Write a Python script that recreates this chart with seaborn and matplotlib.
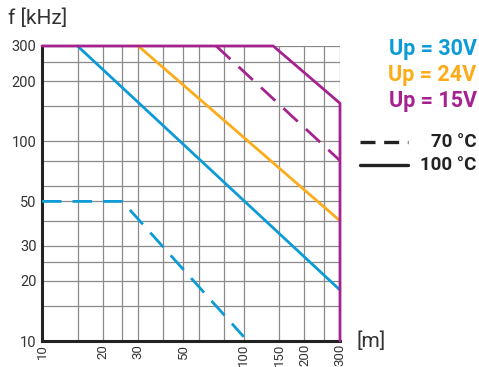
import matplotlib
matplotlib.use("Agg")
import matplotlib.pyplot as plt
from matplotlib.lines import Line2D
import seaborn as sns
import pandas as pd

# cable length [m] vs max frequency [kHz]
blue_70_len = [10, 25, 100]
blue_70_freq = [50, 50, 10.5]
blue_100_len = [15, 300]
blue_100_freq = [300, 18]
orange_100_len = [30, 300]
orange_100_freq = [300, 40]
purple_70_len = [73, 300]
purple_70_freq = [300, 80]
purple_100_len = [10, 140, 300, 300]
purple_100_freq = [300, 300, 155, 10]

x_grid = [10, 15, 20, 25, 30, 40, 50, 60, 80, 100, 150, 200, 250, 300]
x_labels = ["10", "", "20", "", "30", "", "50", "", "", "100", "150", "200", "", "300"]
y_grid = [10, 15, 20, 25, 30, 40, 50, 60, 80, 100, 150, 200, 250, 300]
y_labels = ["10", "", "20", "", "30", "", "50", "", "", "100", "", "200", "", "300"]

voltages = ["Up = 30V", "Up = 24V", "Up = 15V"]
temps = ["70 °C", "100 °C"]
colors = {"Up = 30V": "#0c9bd6", "Up = 24V": "#fbac18", "Up = 15V": "#a5228f"}

series = [
    ("Up = 30V", "70 °C", blue_70_len, blue_70_freq),
    ("Up = 30V", "100 °C", blue_100_len, blue_100_freq),
    ("Up = 24V", "100 °C", orange_100_len, orange_100_freq),
    ("Up = 15V", "70 °C", purple_70_len, purple_70_freq),
    ("Up = 15V", "100 °C", purple_100_len, purple_100_freq),
]
rows = []
for v, t, xs, ys in series:
    for x, y in zip(xs, ys):
        rows.append({"length": x, "freq": y, "voltage": v, "temp": t})
df = pd.DataFrame(rows)

sns.set_theme(style="white")
plt.rcParams["font.family"] = ["Roboto", "DejaVu Sans"]

fig = plt.figure(figsize=(4.79, 3.67), dpi=100)
ax = fig.add_axes([0.0877, 0.0708, 0.6221, 0.8039])

sns.lineplot(data=df, x="length", y="freq", hue="voltage", style="temp",
             hue_order=voltages, style_order=temps, palette=colors,
             dashes={"70 °C": (7, 4), "100 °C": ""},
             estimator=None, sort=False,
             linewidth=2.0, legend=False, ax=ax)
for ln in ax.lines:
    ln.set_clip_on(False)
    ln.set_zorder(5)

ax.set_xscale("log")
ax.set_yscale("log")
ax.set_xlim(10, 300)
ax.set_ylim(10, 300)
ax.set_xticks(x_grid)
ax.set_xticklabels(x_labels, rotation=90, fontsize=9.5, color="#333333")
ax.set_yticks(y_grid)
ax.set_yticklabels(y_labels, fontsize=10.5, color="#333333")
ax.minorticks_off()
ax.tick_params(axis="y", length=0, pad=4)
ax.tick_params(axis="x", length=0, pad=2)
ax.grid(True, color="#8a8a8a", linewidth=0.9)
ax.set_xlabel("")
ax.set_ylabel("")

for side in ["top", "right"]:
    ax.spines[side].set_visible(False)
for side in ["left", "bottom"]:
    ax.spines[side].set_color("#222222")
    ax.spines[side].set_linewidth(2.2)

fig.text(0.017, 0.95, "f [kHz]", fontsize=15, color="#333333", va="center", ha="left")
fig.text(0.745, 0.07, "[m]", fontsize=15, color="#333333", va="center", ha="left")

for i, v in enumerate(voltages):
    fig.text(0.995, 0.866 - i * 0.071, v, fontsize=15.5, fontweight="bold",
             color=colors[v], ha="right", va="center")

fig.add_artist(Line2D([0.752, 0.852], [0.613, 0.613], color="#222222", lw=2.4,
                      dashes=(4.5, 2.6)))
fig.add_artist(Line2D([0.752, 0.852], [0.551, 0.551], color="#222222", lw=2.4))
fig.text(0.995, 0.613, "70 °C", fontsize=13.5, fontweight="bold", color="#222222",
         ha="right", va="center")
fig.text(0.995, 0.551, "100 °C", fontsize=13.5, fontweight="bold", color="#222222",
         ha="right", va="center")

fig.savefig("out.png", dpi=100)
